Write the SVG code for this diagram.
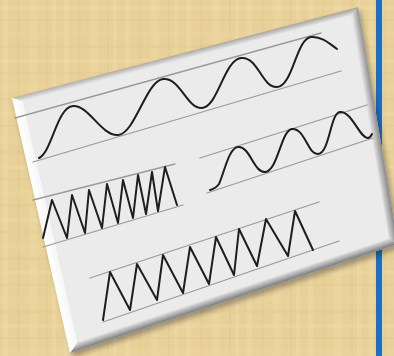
<svg xmlns="http://www.w3.org/2000/svg" width="394" height="356" viewBox="0 0 394 356">
  <defs>
    <pattern id="papyrus" x="0" y="0" width="61" height="53" patternUnits="userSpaceOnUse">
      <rect width="61" height="53" fill="#e8d198"/>
      <rect x="3" y="0" width="5" height="53" fill="#f3e3b4" opacity="0.3"/>
      <rect x="17" y="0" width="3" height="53" fill="#d9bd7c" opacity="0.18"/>
      <rect x="29" y="0" width="8" height="53" fill="#f0deaa" opacity="0.25"/>
      <rect x="46" y="0" width="2" height="53" fill="#d6b978" opacity="0.2"/>
      <rect x="52" y="0" width="4" height="53" fill="#f5e6bb" opacity="0.22"/>
      <rect x="0" y="6" width="61" height="4" fill="#f2e0ae" opacity="0.25"/>
      <rect x="0" y="19" width="61" height="2" fill="#d8bb7a" opacity="0.18"/>
      <rect x="0" y="31" width="61" height="7" fill="#efdba5" opacity="0.22"/>
      <rect x="0" y="45" width="61" height="3" fill="#d4b776" opacity="0.15"/>
    </pattern>
    <linearGradient id="gTop" gradientUnits="userSpaceOnUse" x1="185" y1="52.5" x2="186.5" y2="58.3">
      <stop offset="0" stop-color="#a8a8a8"/>
      <stop offset="1" stop-color="#e8e8e8"/>
    </linearGradient>
    <linearGradient id="gRight" gradientUnits="userSpaceOnUse" x1="378" y1="125.5" x2="370" y2="126.8">
      <stop offset="0" stop-color="#8a8a8a"/>
      <stop offset="1" stop-color="#e6e6e6"/>
    </linearGradient>
    <linearGradient id="gBottom" gradientUnits="userSpaceOnUse" x1="234" y1="298.5" x2="231.5" y2="291">
      <stop offset="0" stop-color="#7a7a7a"/>
      <stop offset="1" stop-color="#e2e2e2"/>
    </linearGradient>
    <linearGradient id="gLeft" gradientUnits="userSpaceOnUse" x1="41" y1="225.5" x2="50.7" y2="223.3">
      <stop offset="0" stop-color="#ffffff"/>
      <stop offset="1" stop-color="#f6f6f6"/>
    </linearGradient>
    <filter id="shadow" x="-10%" y="-10%" width="120%" height="120%">
      <feGaussianBlur stdDeviation="2.5"/>
    </filter>
    <style>
      .guide { fill: none; stroke: #9a9a9a; stroke-width: 1.3; stroke-linecap: round; }
      .wave { fill: none; stroke: #1e1e1e; stroke-width: 2; stroke-linejoin: round; stroke-linecap: round; }
    </style>
  </defs>

  <!-- background -->
  <rect x="0" y="0" width="394" height="356" fill="url(#papyrus)"/>
  <rect x="376" y="0" width="6" height="356" fill="#1a70c6"/>

  <!-- card -->
  <g id="card">
    <polygon points="14,101 360,10 401,248 73,357" fill="#000" opacity="0.3" filter="url(#shadow)"/>
    <polygon points="12,98 358,7 398,244 70,353" fill="#e0e0e0"/>
    <polygon points="12,98 358,7 351.2,15 23,101.3" fill="url(#gTop)"/>
    <polygon points="358,7 398,244 389,238.6 351.2,15" fill="url(#gRight)"/>
    <polygon points="398,244 70,353 77.7,342 389,238.6" fill="url(#gBottom)"/>
    <polygon points="70,353 12,98 23,101.3 77.7,342" fill="url(#gLeft)"/>
    <polygon points="23,101.3 351.2,15 389,238.6 77.7,342" fill="#ebebeb"/>
  </g>

  <!-- large sine wave -->
  <g id="wave1">
    <line class="guide" x1="15" y1="118" x2="321" y2="33"/>
    <line class="guide" x1="33" y1="162" x2="341" y2="71"/>
    <path class="wave" d="M39,158 C52,152 57,107 73,106 C89,105 101,136 118,135 C135,134 146,81 163,79 C180,77 187,109 202,108 C218,107 224,60 241,58 C258,56 262,88 277,87 C293,86 296,39 311,37 C322,36 330,44 337,49"/>
  </g>

  <!-- small sine wave -->
  <g id="wave2">
    <line class="guide" x1="200" y1="158" x2="367" y2="105"/>
    <line class="guide" x1="207" y1="193" x2="373" y2="138"/>
    <path class="wave" d="M210,190 C214,189 216,188 219,184 C225,170 229,148 238,147 C250,146 254,173 265,172 C278,171 281,130 292,129 C305,128 308,155 318,154 C330,153 330,113 340,112 C352,111 360,139 368,138 C370,138 371,136 372,134"/>
  </g>

  <!-- dense zigzag -->
  <g id="zigzag1">
    <line class="guide" x1="33" y1="200" x2="175" y2="164"/>
    <line class="guide" x1="43" y1="247" x2="183" y2="205"/>
    <polyline class="wave" points="43,238 52,200 67,238 72,195 85,233 89,190 102,228 107,184 118,223 123,180 133,218 138,175 146,214 152,172 158,211 165,167 177,205"/>
  </g>

  <!-- wide zigzag -->
  <g id="zigzag2">
    <line class="guide" x1="90" y1="278" x2="319" y2="202"/>
    <line class="guide" x1="103" y1="322" x2="339" y2="241"/>
    <polyline class="wave" points="103,320 110,272 130,310 137,264 157,300 163,255 183,293 190,247 209,284 216,237 234,275 239,229 257,266 266,219 288,256 295,211 313,250"/>
  </g>
</svg>
